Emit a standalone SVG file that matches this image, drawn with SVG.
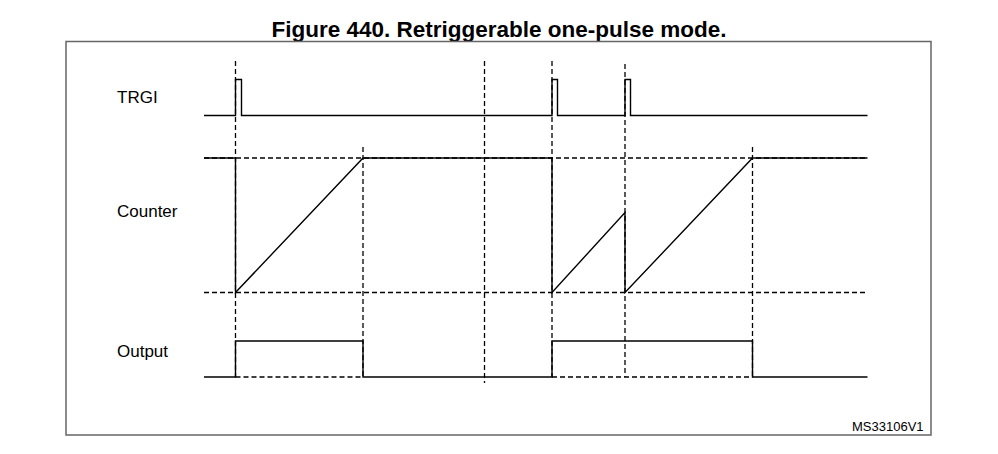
<svg xmlns="http://www.w3.org/2000/svg" width="998" height="454" viewBox="0 0 998 454">
<style>
.lbl{font-family:"Liberation Sans",Arial,sans-serif;font-size:17px;fill:#000}
.title{font-family:"Liberation Sans",Arial,sans-serif;font-size:22.5px;font-weight:bold;fill:#000}
.ref{font-family:"Liberation Sans",Arial,sans-serif;font-size:13px;fill:#000}
.w{fill:none;stroke:#000;stroke-width:1.4}
.d{fill:none;stroke:#000;stroke-width:1.3;stroke-dasharray:5 3}
</style>
<rect width="998" height="454" fill="#fff"/>
<text class="title" x="499" y="37" text-anchor="middle">Figure 440. Retriggerable one-pulse mode.</text>
<rect x="66" y="41.5" width="865" height="393.5" fill="none" stroke="#666" stroke-width="1.5"/>
<g id="labels">
<text class="lbl" x="117" y="103">TRGI</text>
<text class="lbl" x="117" y="217">Counter</text>
<text class="lbl" x="117" y="357">Output</text>
<text class="ref" x="852" y="431">MS33106V1</text>
</g>
<g id="guides">
<line class="d" x1="235.5" y1="61" x2="235.5" y2="377"/>
<line class="d" x1="363" y1="147" x2="363" y2="377"/>
<line class="d" x1="484.5" y1="61" x2="484.5" y2="383"/>
<line class="d" x1="552" y1="61" x2="552" y2="377"/>
<line class="d" x1="625" y1="64" x2="625" y2="377"/>
<line class="d" x1="752.5" y1="147" x2="752.5" y2="377"/>
<line class="d" x1="204" y1="158" x2="867" y2="158"/>
<line class="d" x1="204" y1="292.5" x2="867" y2="292.5"/>
<line class="d" x1="235.5" y1="377" x2="363" y2="377"/>
<line class="d" x1="552" y1="377" x2="752.5" y2="377"/>
</g>
<g id="trgi">
<path class="w" d="M204 115.5H235.5V79.5H241.5V115.5H552V79.5H557.5V115.5H625V79.5H630.5V115.5H867.5"/>
</g>
<g id="counter">
<path class="w" d="M204 158H235.5V292.5L363 158H552V292.5L625 212.5V292.5L752.5 158H867.5"/>
</g>
<g id="output">
<path class="w" d="M204 377H235.5V341H363V377H552V341H752.5V377H867.5"/>
</g>
</svg>
